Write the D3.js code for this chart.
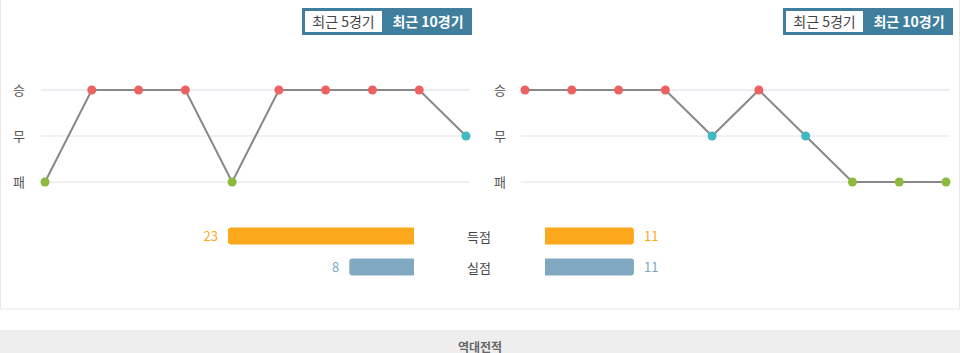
<!DOCTYPE html>
<html>
<head>
<meta charset="utf-8">
<script src="https://cdn.jsdelivr.net/npm/d3@7"></script>
<style>
  body { margin: 0; background: #fff; font-family: "Noto Sans CJK KR", "Noto Sans", sans-serif; }
</style>
</head>
<body>
<div id="chart"></div>
<script>
// Frame
const width = 960;
const height = 353;

// Results, oldest to newest
const outcomes = ['승', '무', '패'];
const homeResults = ['패', '승', '승', '승', '패', '승', '승', '승', '승', '무'];
const awayResults = ['승', '승', '승', '승', '무', '승', '무', '패', '패', '패'];

// Goals
const statLabels = ['득점', '실점'];
const homeStats = [23, 8];
const awayStats = [11, 11];

const buttonLabels = ['최근 5경기', '최근 10경기'];

const dotColor = { '승': '#ec6161', '무': '#40b9c5', '패': '#8cba3c' };
const accent = '#3f7f9d';
const barColors = ['#fca81d', '#80a9c1'];

const svg = d3.select('#chart')
  .append('svg')
  .attr('width', width)
  .attr('height', height);

// panel border
svg.append('rect')
  .attr('x', 0.5).attr('y', -1)
  .attr('width', width - 1).attr('height', 310)
  .attr('fill', 'none')
  .attr('stroke', '#e6e6e6');

// bottom strip
svg.append('rect')
  .attr('x', 0).attr('y', 330)
  .attr('width', width).attr('height', 23)
  .attr('fill', '#eeeeee');

svg.append('text')
  .attr('x', width / 2).attr('y', 352)
  .attr('text-anchor', 'middle')
  .attr('font-size', 12)
  .attr('font-weight', 'bold')
  .attr('fill', '#666')
  .text('역대전적');

const y = d3.scalePoint().domain(outcomes).range([90, 182]);

function buttons(x0) {
  const g = svg.append('g').attr('transform', `translate(${x0}, 8)`);
  g.append('rect')
    .attr('x', 0).attr('y', 0).attr('width', 170).attr('height', 27)
    .attr('fill', accent);
  g.append('rect')
    .attr('x', 3).attr('y', 3).attr('width', 77).attr('height', 21)
    .attr('fill', '#fff');
  g.append('text')
    .attr('x', 41.5).attr('y', 19)
    .attr('text-anchor', 'middle').attr('font-size', 14)
    .attr('fill', '#444')
    .text(buttonLabels[0]);
  g.append('text')
    .attr('x', 126).attr('y', 19)
    .attr('text-anchor', 'middle').attr('font-size', 14)
    .attr('font-weight', 'bold')
    .attr('fill', '#fff')
    .text(buttonLabels[1]);
}

function formChart(results, x0, x1, labelX) {
  const x = d3.scalePoint()
    .domain(d3.range(results.length))
    .range([x0, x1]);

  const g = svg.append('g');

  g.selectAll('.grid')
    .data(outcomes)
    .enter()
    .append('line')
    .attr('x1', x0 - 4).attr('x2', x1 + 4)
    .attr('y1', d => y(d)).attr('y2', d => y(d))
    .attr('stroke', d => d === '승' ? '#d6dbe6' : '#e3e3e3')
    .attr('stroke-width', 1.2);

  g.selectAll('.lab')
    .data(outcomes)
    .enter()
    .append('text')
    .attr('x', labelX).attr('y', d => y(d) + 5)
    .attr('text-anchor', 'middle')
    .attr('font-size', 13)
    .attr('fill', '#555')
    .text(d => d);

  const line = d3.line()
    .x((d, i) => x(i))
    .y(d => y(d));

  g.append('path')
    .datum(results)
    .attr('d', line)
    .attr('fill', 'none')
    .attr('stroke', '#888')
    .attr('stroke-width', 2);

  g.selectAll('.dot')
    .data(results)
    .enter()
    .append('circle')
    .attr('cx', (d, i) => x(i))
    .attr('cy', d => y(d))
    .attr('r', 4.5)
    .attr('fill', d => dotColor[d]);
}

buttons(302);
buttons(783);
formChart(homeResults, 45, 466, 19);
formChart(awayResults, 525, 946, 500);

// goal bars
const barScale = d3.scaleLinear().domain([0, 23]).range([0, 186]);
const rowY = d3.scalePoint().domain(statLabels).range([236, 267]);
const barH = 17;

function barPath(x, yTop, w, h, r, side) {
  // round corners on the outer side only
  if (side === 'left') {
    return `M${x + w},${yTop}H${x + r}Q${x},${yTop} ${x},${yTop + r}V${yTop + h - r}Q${x},${yTop + h} ${x + r},${yTop + h}H${x + w}Z`;
  }
  return `M${x},${yTop}H${x + w - r}Q${x + w},${yTop} ${x + w},${yTop + r}V${yTop + h - r}Q${x + w},${yTop + h} ${x + w - r},${yTop + h}H${x}Z`;
}

statLabels.forEach((label, i) => {
  const cy = rowY(label);
  const hw = barScale(homeStats[i]);
  const aw = barScale(awayStats[i]);

  svg.append('path')
    .attr('d', barPath(414 - hw, cy - barH / 2, hw, barH, 3, 'left'))
    .attr('fill', barColors[i]);
  svg.append('text')
    .attr('x', 414 - hw - 10).attr('y', cy + 5)
    .attr('text-anchor', 'end')
    .attr('font-size', 13)
    .attr('fill', barColors[i])
    .text(homeStats[i]);

  svg.append('path')
    .attr('d', barPath(545, cy - barH / 2, aw, barH, 3, 'right'))
    .attr('fill', barColors[i]);
  svg.append('text')
    .attr('x', 545 + aw + 10).attr('y', cy + 5)
    .attr('text-anchor', 'start')
    .attr('font-size', 13)
    .attr('fill', barColors[i])
    .text(awayStats[i]);

  svg.append('text')
    .attr('x', 479).attr('y', cy + 6)
    .attr('text-anchor', 'middle')
    .attr('font-size', 13)
    .attr('fill', '#444')
    .text(label);
});
</script>
</body>
</html>
